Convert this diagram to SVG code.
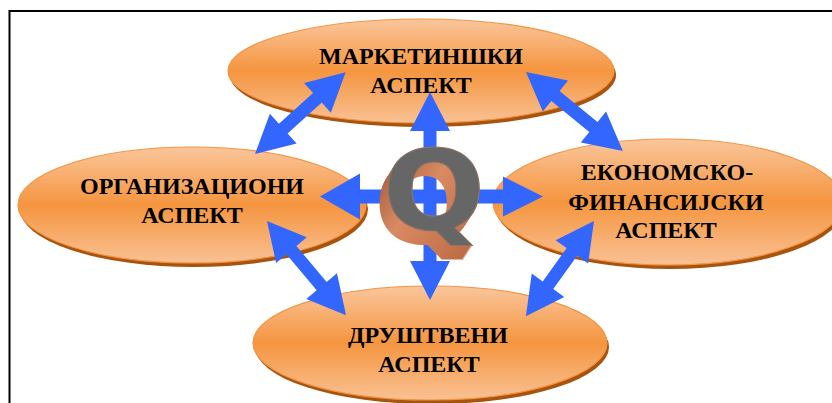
<svg xmlns="http://www.w3.org/2000/svg" xmlns:xlink="http://www.w3.org/1999/xlink" width="832" height="403" viewBox="0 0 832 403">
  <defs>
    <linearGradient id="orangeFill" x1="0" y1="0" x2="0" y2="1">
      <stop offset="0" stop-color="#FAC69C"/>
      <stop offset="0.5" stop-color="#F5953F"/>
      <stop offset="1" stop-color="#F9C194"/>
    </linearGradient>
    <linearGradient id="copper" x1="0" y1="0" x2="1" y2="1">
      <stop offset="0" stop-color="#8E4A2A"/>
      <stop offset="0.45" stop-color="#D98A62"/>
      <stop offset="1" stop-color="#B8653E"/>
    </linearGradient>
    <text id="qglyph" x="434" y="230" font-family="DejaVu Sans, Liberation Sans, sans-serif" font-weight="bold" font-size="110" text-anchor="middle" transform="translate(434 0) scale(1.1 1) translate(-434 0)">Q</text>
    <style>
      .shadow { fill: #A8540E; }
      .oval { fill: url(#orangeFill); stroke: #F39442; stroke-width: 1.2; }
      .label { font-family: "Liberation Serif", "Times New Roman", serif; font-weight: bold; font-size: 24px; fill: #000; text-anchor: middle; }
      .arrow { fill: #3366FF; }
      .frame { fill: none; stroke: #000; stroke-width: 2; }
    </style>
  </defs>

  <!-- outer frame (open to the right and bottom) -->
  <path class="frame" d="M9.5,403 V11 H832"/>

  <!-- aspect ellipses -->
  <g id="node-marketing">
    <ellipse class="shadow" cx="423" cy="75" rx="193" ry="52"/>
    <ellipse class="oval" cx="421" cy="71" rx="193" ry="52"/>
    <text class="label" x="421" y="64">МАРКЕТИНШКИ</text>
    <text class="label" x="421" y="93">АСПЕКТ</text>
  </g>
  <g id="node-organizational">
    <ellipse class="shadow" cx="194" cy="209" rx="174" ry="58"/>
    <ellipse class="oval" cx="192" cy="205" rx="174" ry="58"/>
    <text class="label" x="192" y="194">ОРГАНИЗАЦИОНИ</text>
    <text class="label" x="192" y="223">АСПЕКТ</text>
  </g>
  <g id="node-economic">
    <ellipse class="shadow" cx="670" cy="206" rx="175" ry="63"/>
    <ellipse class="oval" cx="668" cy="202" rx="175" ry="63"/>
    <text class="label" x="667" y="180">ЕКОНОМСКО-</text>
    <text class="label" x="666" y="210">ФИНАНСИЈСКИ</text>
    <text class="label" x="666" y="238">АСПЕКТ</text>
  </g>
  <g id="node-social">
    <ellipse class="shadow" cx="432" cy="347" rx="177" ry="57"/>
    <ellipse class="oval" cx="430" cy="343" rx="177" ry="57"/>
    <text class="label" x="428" y="343">ДРУШТВЕНИ</text>
    <text class="label" x="429" y="372">АСПЕКТ</text>
  </g>

  <!-- double-headed connectors -->
  <g id="connectors" class="arrow">
    <polygon points="0,0 38,-20 38,-6.5 84,-6.5 84,-20 122,0 84,20 84,6.5 38,6.5 38,20" transform="translate(255 154) rotate(-42)"/>
    <polygon points="0,0 38,-20 38,-6.5 87,-6.5 87,-20 125,0 87,20 87,6.5 38,6.5 38,20" transform="translate(526 72) rotate(39.2)"/>
    <polygon points="0,0 38,-20 38,-6.5 85,-6.5 85,-20 123,0 85,20 85,6.5 38,6.5 38,20" transform="translate(267 221) rotate(50)"/>
    <polygon points="0,0 38,-20 38,-6.5 79,-6.5 79,-20 117,0 79,20 79,6.5 38,6.5 38,20" transform="translate(594 221) rotate(125.6)"/>
    <polygon points="0,0 39,-20 39,-6.5 169,-6.5 169,-20 208,0 169,20 169,6.5 39,6.5 39,20" transform="translate(430 92) rotate(90)"/>
    <polygon points="0,0 40,-23 40,-7 183,-7 183,-20 223,0 183,20 183,7 40,7 40,23" transform="translate(320 196.5)"/>
  </g>

  <!-- central 3D quality letter: stacked copper copies form the extrusion -->
  <g id="node-quality">
    <use xlink:href="#qglyph" fill="url(#copper)" transform="translate(-9 14)"/>
    <use xlink:href="#qglyph" fill="url(#copper)" transform="translate(-8.4 13)"/>
    <use xlink:href="#qglyph" fill="url(#copper)" transform="translate(-7.7 12)"/>
    <use xlink:href="#qglyph" fill="url(#copper)" transform="translate(-7.1 11)"/>
    <use xlink:href="#qglyph" fill="url(#copper)" transform="translate(-6.4 10)"/>
    <use xlink:href="#qglyph" fill="url(#copper)" transform="translate(-5.8 9)"/>
    <use xlink:href="#qglyph" fill="url(#copper)" transform="translate(-5.1 8)"/>
    <use xlink:href="#qglyph" fill="url(#copper)" transform="translate(-4.5 7)"/>
    <use xlink:href="#qglyph" fill="url(#copper)" transform="translate(-3.9 6)"/>
    <use xlink:href="#qglyph" fill="url(#copper)" transform="translate(-3.2 5)"/>
    <use xlink:href="#qglyph" fill="url(#copper)" transform="translate(-2.6 4)"/>
    <use xlink:href="#qglyph" fill="url(#copper)" transform="translate(-1.9 3)"/>
    <use xlink:href="#qglyph" fill="url(#copper)" transform="translate(-1.3 2)"/>
    <use xlink:href="#qglyph" fill="url(#copper)" transform="translate(-0.6 1)"/>
    <use xlink:href="#qglyph" fill="#666666" stroke="#8C7468" stroke-width="1"/>
  </g>
</svg>
